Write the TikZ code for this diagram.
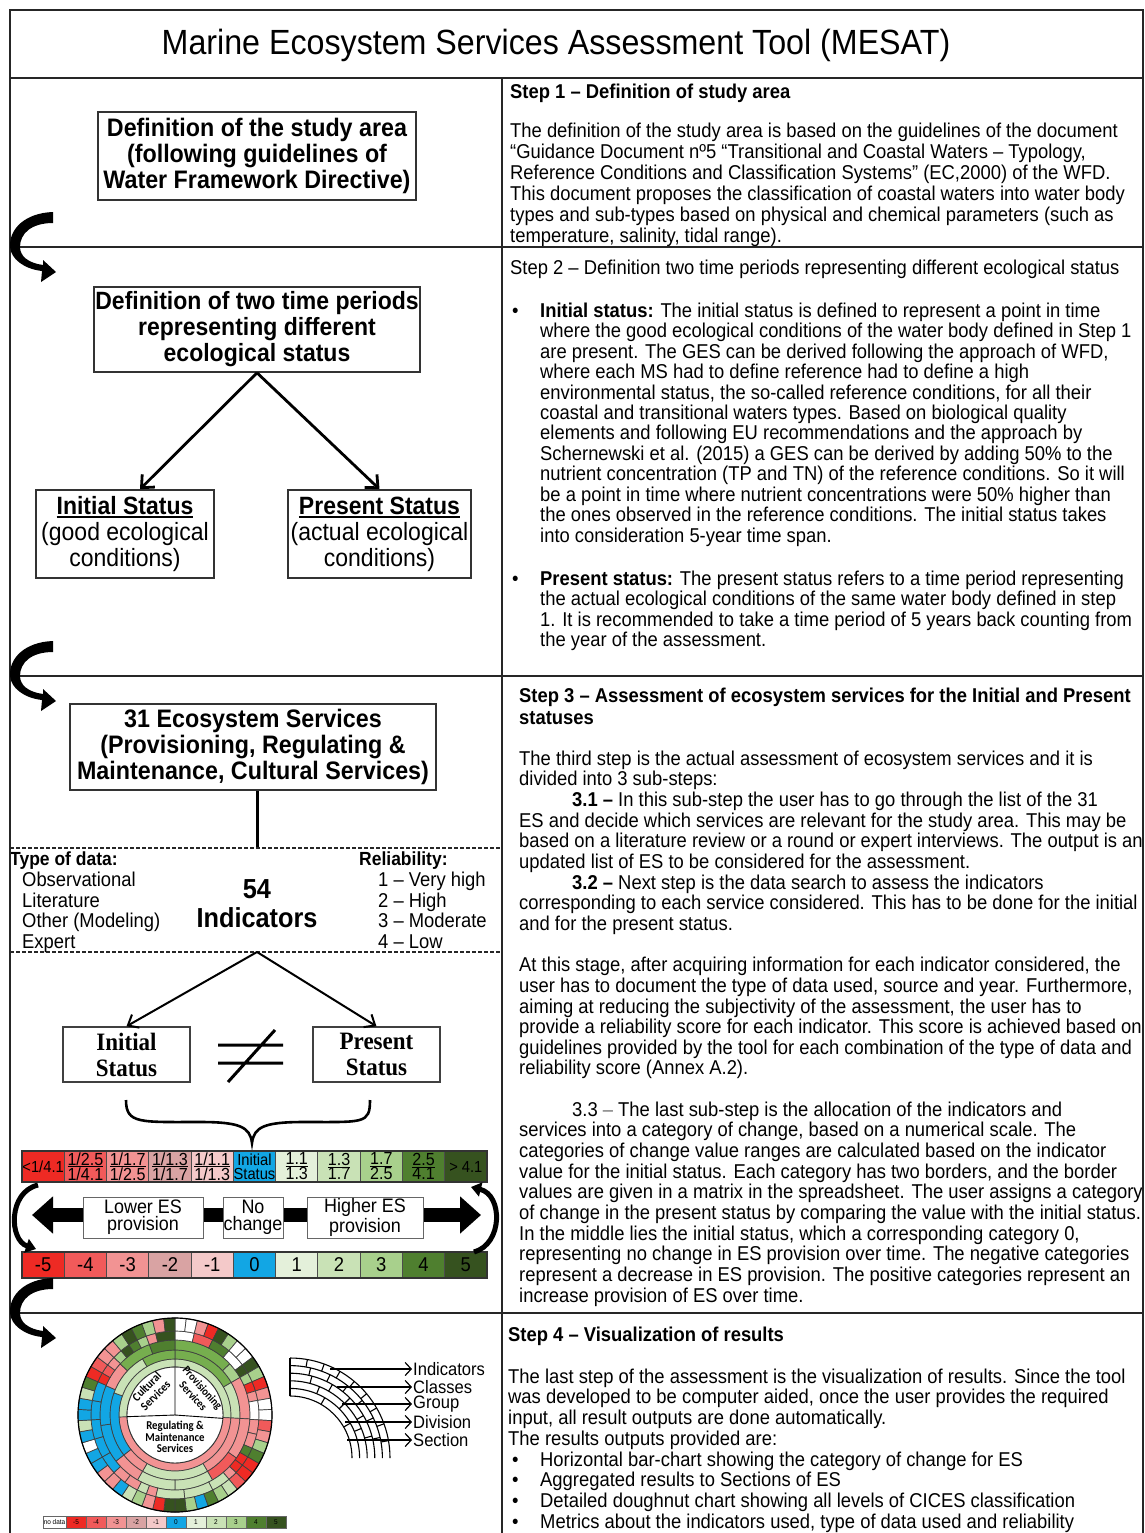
\documentclass[tikz,border=0pt]{standalone}
\usepackage{fontspec}
\setmainfont{Liberation Sans}[FakeStretch=0.92]
\newfontfamily\serifb{Liberation Serif}[FakeStretch=0.92]
\newfontfamily\calib{Carlito}[FakeStretch=0.9]
\usetikzlibrary{arrows.meta,calc}
\definecolor{m5}{HTML}{EE2A24}
\definecolor{m4}{HTML}{F15A5A}
\definecolor{m3}{HTML}{F29393}
\definecolor{m2}{HTML}{D9A3A3}
\definecolor{m1}{HTML}{F4C9C9}
\definecolor{z0}{HTML}{12A6E4}
\definecolor{p1}{HTML}{E4F0DA}
\definecolor{p2}{HTML}{C9E2B6}
\definecolor{p3}{HTML}{A8D08C}
\definecolor{p35}{HTML}{76AE4E}
\definecolor{p4}{HTML}{4F7F2F}
\definecolor{p5}{HTML}{36521F}
\definecolor{wh}{HTML}{FFFFFF}
\newcommand\ts{\rule{0pt}{16pt}}
\newsavebox\ulbox
\newcommand\myul[3]{\sbox\ulbox{#3}\rlap{\rule[#1]{\wd\ulbox}{#2}}\usebox\ulbox}
\newcommand\dring[3]{%
  \foreach \sa/\sb/\sc in {#3}{%
    \filldraw[fill=\sc,draw=black!75,line width=0.7pt]
      ($(dc)+(\sa-90:#1)$) arc[start angle=\sa-90,end angle=\sb-90,radius=#1]
      -- ($(dc)+(\sb-90:#2)$) arc[start angle=\sb-90,end angle=\sa-90,radius=#2] -- cycle;}}
\newcommand\dcells[4]{%
  \foreach \sc [count=\ii from 0] in {#4}{%
    \pgfmathsetmacro\sa{\ii*(360/#3)}\pgfmathsetmacro\sb{(\ii+1)*(360/#3)}
    \filldraw[fill=\sc,draw=black!75,line width=0.7pt]
      ($(dc)+(\sa-90:#1)$) arc[start angle=\sa-90,end angle=\sb-90,radius=#1]
      -- ($(dc)+(\sb-90:#2)$) arc[start angle=\sb-90,end angle=\sa-90,radius=#2] -- cycle;}}
\tikzset{
  turnarrow/.pic={\fill[black] (43,-35) .. controls (15,-34) and (-1,-18) .. (0,0)
     .. controls (1,12) and (14,22) .. (32,24) -- (31,35) -- (46,25) -- (33,13) -- (33,18)
     .. controls (18,16) and (10,9) .. (10,0) .. controls (10,-14) and (22,-24) .. (43,-24) -- cycle;}
}
\begin{document}
\begin{tikzpicture}[x=1pt,y=-1pt,
  frame/.style={draw=black!85,line width=2.2pt},
  lbox/.style={draw=black!80,line width=1.6pt,fill=white,align=center,inner sep=0pt,font=\fontsize{25.3}{26}\selectfont\bfseries},
  sbox/.style={draw=black!80,line width=1.6pt,fill=white,align=center,inner sep=0pt,font=\fontsize{25}{26}\selectfont},
  tbox/.style={draw=black!75,line width=1.4pt,fill=white,align=center,inner sep=0pt,font=\serifb\fontsize{25}{26}\selectfont\bfseries},
  txt/.style={anchor=north west,align=left,inner sep=0pt,font=\fontsize{20}{20.6}\selectfont},
  cell/.style={draw=black!70,line width=1pt,inner sep=0pt,minimum width=42.27pt,align=center},
  mbox/.style={draw=black!60,line width=1pt,fill=white,inner sep=0pt,align=center,minimum height=41pt,font=\fontsize{19.5}{17}\selectfont},
  thin/.style={line width=2pt,-{Straight Barb[length=9pt,width=15pt]}},
  lab/.style={anchor=west,inner sep=1pt,font=\fontsize{18}{18}\selectfont},
  dsh/.style={draw=black!85,line width=1.3pt,dash pattern=on 4pt off 2pt},
  dlab/.style={font=\calib\bfseries\fontsize{12}{12.5}\selectfont,align=center,inner sep=0pt}
]
\useasboundingbox (0,0) rectangle (1145,1533);
\fill[white] (0,0) rectangle (1145,1533);

% ---------------- title
\node[font=\fontsize{35}{38}\selectfont] (title) at (556,45) {Marine Ecosystem Services Assessment Tool (MESAT)};

% ---------------- step 1 left
\node[lbox,minimum width=318,minimum height=88] (s1box) at (257,156) {Definition of the study area\\(following guidelines of\\Water Framework Directive)};

% ---------------- step 1 right
\node[txt,font=\fontsize{20}{21}\selectfont\bfseries] (s1h) at (510,82) {\ts Step 1 – Definition of study area};
\node[txt,font=\fontsize{20}{21}\selectfont] (s1t) at (510,121) {\ts The definition of the study area is based on the guidelines of the document\\
“Guidance Document nº5 “Transitional and Coastal Waters – Typology,\\
Reference Conditions and Classification Systems” (EC,2000) of the WFD.\\
This document proposes the classification of coastal waters into water body\\
types and sub-types based on physical and chemical parameters (such as\\
temperature, salinity, tidal range).};

% ---------------- step 2 left
\node[lbox,font=\fontsize{25}{26}\selectfont\bfseries,minimum width=326,minimum height=85] (s2box) at (257,329.5) {Definition of two time periods\\representing different\\ecological status};
\node[sbox,minimum width=178,minimum height=88] (ibox) at (125,534) {{\bfseries\myul{-3.5pt}{1.8pt}{Initial Status}}\\(good ecological\\conditions)};
\node[sbox,minimum width=183,minimum height=88] (pbox) at (379.5,534) {{\bfseries\myul{-3.5pt}{1.8pt}{Present Status}}\\(actual ecological\\conditions)};
\draw[line width=2.8pt,-{Straight Barb[length=10pt,width=18pt]}] (s2box.south) -- ($(ibox.north)+(15,0)$);
\draw[line width=2.8pt,-{Straight Barb[length=10pt,width=18pt]}] (s2box.south) -- ($(pbox.north)+(0,0)$);

% ---------------- step 2 right
\node[txt,font=\fontsize{20}{20.45}\selectfont] (s2h) at (510,258) {\ts Step 2 – Definition two time periods representing different ecological status};
\node[txt] (b1) at (512,301) {\ts •};
\node[txt,font=\fontsize{20}{20.45}\selectfont] (s2a) at (540,301) {\ts\textbf{Initial status:} The initial status is defined to represent a point in time\\
where the good ecological conditions of the water body defined in Step 1\\
are present. The GES can be derived following the approach of WFD,\\
where each MS had to define reference had to define a high\\
environmental status, the so-called reference conditions, for all their\\
coastal and transitional waters types. Based on biological quality\\
elements and following EU recommendations and the approach by\\
Schernewski et al. (2015) a GES can be derived by adding 50\% to the\\
nutrient concentration (TP and TN) of the reference conditions. So it will\\
be a point in time where nutrient concentrations were 50\% higher than\\
the ones observed in the reference conditions. The initial status takes\\
into consideration 5-year time span.};
\node[txt] (b2) at (512,569) {\ts •};
\node[txt,font=\fontsize{20}{20.45}\selectfont] (s2b) at (540,569) {\ts\textbf{Present status:} The present status refers to a time period representing\\
the actual ecological conditions of the same water body defined in step\\
1. It is recommended to take a time period of 5 years back counting from\\
the year of the assessment.};

% ---------------- step 3 left
\node[lbox,minimum width=366,minimum height=86] (s3box) at (253,747) {31 Ecosystem Services\\(Provisioning, Regulating \&\\Maintenance, Cultural Services)};
\coordinate (dsh1) at (257,848);
\draw[line width=3pt] (s3box.south -| dsh1) -- (dsh1);
\draw[dsh] (10,848) -- (502,848);
\draw[dsh] (10,952) -- (502,952);
\node[txt,font=\fontsize{19}{20}\selectfont\bfseries] (tdh) at (10,849) {\ts Type of data:};
\node[txt,font=\fontsize{20}{20.8}\selectfont] (tdl) at (22,870) {\ts Observational\\Literature\\Other (Modeling)\\Expert};
\node[txt,font=\fontsize{19}{20}\selectfont\bfseries] (rlh) at (359,849) {\ts Reliability:};
\node[txt,font=\fontsize{20}{20.8}\selectfont] (rll) at (378,870) {\ts 1 – Very high\\2 – High\\3 – Moderate\\4 – Low};
\node[font=\fontsize{27.5}{29}\selectfont\bfseries,inner sep=0pt] (n54) at (257,889) {54};
\node[font=\fontsize{27.5}{29}\selectfont\bfseries,inner sep=0pt] (nind) at (257,918) {Indicators};
\coordinate (ind) at (257,952);
\node[tbox,minimum width=127,minimum height=55] (is) at (126.5,1054.5) {Initial\\Status};
\node[tbox,minimum width=127,minimum height=55] (ps) at (376.5,1054.5) {Present\\Status};
\draw[thin] (ind) -- (is.north);
\draw[thin] (ind) -- (ps.north);
% not equal sign
\draw[line width=3pt] (218,1045) -- (283,1045) (218,1063) -- (283,1063) (228,1082) -- (275,1030);
% brace
\draw[line width=2.6pt] (126,1100) .. controls (126,1124) and (140,1122) .. (200,1122)
   .. controls (240,1122) and (250,1127) .. (252,1143)
   .. controls (254,1127) and (264,1122) .. (304,1122)
   .. controls (364,1122) and (370,1124) .. (370,1100);

% color scale (top)
\foreach \lab/\col/\fs [count=\i] in {
  {<1/4.1}/m5/16,
  {\myul{-1.8pt}{0.8pt}{1/2.5}\\1/4.1}/m4/17.5,
  {\myul{-1.8pt}{0.8pt}{1/1.7}\\1/2.5}/m3/17.5,
  {\myul{-1.8pt}{0.8pt}{1/1.3}\\1/1.7}/m2/17.5,
  {\myul{-1.8pt}{0.8pt}{1/1.1}\\1/1.3}/m1/17.5,
  {Initial\\Status}/z0/16,
  {\myul{-1.8pt}{0.8pt}{1.1}\\1.3}/p1/17.5,
  {\myul{-1.8pt}{0.8pt}{1.3}\\1.7}/p2/17.5,
  {\myul{-1.8pt}{0.8pt}{1.7}\\2.5}/p3/17.5,
  {\myul{-1.8pt}{0.8pt}{2.5}\\4.1}/p4/17.5,
  {> 4.1}/p5/16}
  {\node[cell,fill=\col,minimum height=31pt,font=\fontsize{\fs}{14}\selectfont] (t\i) at ({22+42.27*(\i-0.5)},1166.5) {\lab};}
\foreach \lab/\col [count=\i] in {-5/m5,-4/m4,-3/m3,-2/m2,-1/m1,0/z0,1/p1,2/p2,3/p3,4/p4,5/p5}
  {\node[cell,fill=\col,minimum height=26pt,font=\fontsize{20}{20}\selectfont] (c\i) at ({22+42.27*(\i-0.5)},1265) {\lab};}
\draw[line width=1.6pt,draw=black!80] (22,1151) rectangle (487,1182) (22,1252) rectangle (487,1278);

% double arrow + boxes
\coordinate (dl) at (32,1215);
\coordinate (dr) at (481,1215);
\draw[line width=14pt,{Triangle[length=21pt,width=36pt]}-{Triangle[length=21pt,width=36pt]}] (dl) -- (dr);
\node[mbox,minimum width=120] (lo) at (143,1217.5) {Lower ES\\provision};
\node[mbox,minimum width=60] (nc) at (253,1217.5) {No\\change};
\node[mbox,minimum width=116] (hi) at (365,1217.5) {Higher ES\\provision};
% small curved arrows
\coordinate (la1) at (38,1185);
\coordinate (la2) at (36,1249);
\coordinate (ra1) at (474,1252);
\coordinate (ra2) at (471,1187);
\draw[line width=5pt,-{Triangle[length=10pt,width=14pt]}] (la1) .. controls (8,1192) and (9,1240) .. (la2);
\draw[line width=5pt,-{Triangle[length=10pt,width=14pt]}] (ra1) .. controls (503,1244) and (503,1195) .. (ra2);

% ---------------- step 3 right
\node[txt,font=\fontsize{20}{22}\selectfont\bfseries] (s3h) at (519,686) {\ts Step 3 – Assessment of ecosystem services for the Initial and Present\\statuses};
\node[txt,font=\fontsize{20}{20.65}\selectfont] (s3t) at (519,749) {\ts The third step is the actual assessment of ecosystem services and it is\\
divided into 3 sub-steps:\\
\hspace*{53pt}\textbf{3.1 –} In this sub-step the user has to go through the list of the 31\\
ES and decide which services are relevant for the study area. This may be\\
based on a literature review or a round or expert interviews. The output is an\\
updated list of ES to be considered for the assessment.\\
\hspace*{53pt}\textbf{3.2 –} Next step is the data search to assess the indicators\\
corresponding to each service considered. This has to be done for the initial\\
and for the present status.\\[20.65pt]
At this stage, after acquiring information for each indicator considered, the\\
user has to document the type of data used, source and year. Furthermore,\\
aiming at reducing the subjectivity of the assessment, the user has to\\
provide a reliability score for each indicator. This score is achieved based on\\
guidelines provided by the tool for each combination of the type of data and\\
reliability score (Annex A.2).\\[20.65pt]
\hspace*{53pt}3.3 {\color{black!55}–} The last sub-step is the allocation of the indicators and\\
services into a category of change, based on a numerical scale. The\\
categories of change value ranges are calculated based on the indicator\\
value for the initial status. Each category has two borders, and the border\\
values are given in a matrix in the spreadsheet. The user assigns a category\\
of change in the present status by comparing the value with the initial status.\\
In the middle lies the initial status, which a corresponding category 0,\\
representing no change in ES provision over time. The negative categories\\
represent a decrease in ES provision. The positive categories represent an\\
increase provision of ES over time.};

% ---------------- step 4 left: doughnut
\coordinate (dc) at (175,1415);
\dring{48}{56}{0/93/p2,93/268/m3,268/360/p2}
\dring{56}{65}{0/60/p35,60/93/p2,93/150/m3,150/210/p2,210/232/m3,232/290/z0,290/330/p2,330/360/p35}
\dring{65}{75}{0/47/p35,47/60/p3,60/93/m3,93/125/m3,125/150/m4,150/180/p2,180/210/p2,210/232/m3,232/262/z0,262/293/z0,293/313/m3,313/340/p35,340/360/p4}
\dring{75}{84}{0/13.33/wh,13.33/26.67/m4,26.67/40/p4,40/53.33/wh,53.33/60/p5,60/66.67/p3,66.67/73.33/m5,73.33/80/m3,80/93.33/wh,93.33/103.33/m3,103.33/113.33/m3,113.33/120/p4,120/126.67/m5,126.67/133.33/m5,133.33/140/m3,140/153.33/p2,153.33/173.33/p2,173.33/193.33/p2,193.33/200/m3,200/206.67/p2,206.67/216.67/m3,216.67/226.67/m3,226.67/240/z0,240/253.33/z0,253.33/266.67/z0,266.67/280/z0,280/293.33/z0,293.33/300/m5,300/306.67/m4,306.67/313.33/m3,313.33/320/p3,320/326.67/p5,326.67/333.33/p4,333.33/340/p3,340/346.67/m3,346.67/360/p5}
\dcells{84}{97}{54}{wh,wh,m3,m5,p5,p3,wh,wh,p5,p3,m5,m3,wh,wh,m4,m3,p3,p4,m5,m5,m4,p2,p3,p4,z0,p3,p5,p5,m5,m3,p3,p2,z0,m3,m3,z0,z0,wh,z0,p2,z0,z0,p2,p4,m5,m4,m3,m3,p3,p5,p4,p3,m3,p5}
\filldraw[fill=white,draw=black!80,line width=0.9pt] (dc) circle[radius=48];
\draw[line width=1.2pt] (dc) circle[radius=97];
\draw[line width=0.9pt] ($(dc)+(-90:48)$) -- (dc) -- ($(dc)+(178:48)$) (dc) -- ($(dc)+(4:48)$);
\node[dlab,rotate=45] (cul) at (151,1391) {Cultural\\Services};
\node[dlab,rotate=-48,font=\calib\bfseries\fontsize{11.5}{12.5}\selectfont] (pro) at (198,1392) {Provisioning\\Services};
\node[dlab,font=\calib\bfseries\fontsize{12}{11.5}\selectfont] (reg) at (175,1437) {Regulating \&\\Maintenance\\Services};
% legend
\node[draw=black!60,line width=0.6pt,fill=white,minimum width=23pt,minimum height=12pt,inner sep=0pt,font=\fontsize{7}{7}\selectfont] (lg0) at (54.5,1522) {no data};
\foreach \lab/\col [count=\i] in {-5/m5,-4/m4,-3/m3,-2/m2,-1/m1,0/z0,1/p1,2/p2,3/p3,4/p4,5/p5}
  {\node[draw=black!60,line width=0.6pt,fill=\col,minimum width=20pt,minimum height=12pt,inner sep=0pt,font=\fontsize{7}{7}\selectfont] (lg\i) at ({66+20*(\i-0.5)},1522) {\lab};}

% fan diagram
\coordinate (fc) at (290,1458);
\foreach \r in {62,69.6,77.2,84.8,92.4,100}
  {\draw[line width=1.1pt] ($(fc)+(-90:\r)$) arc[start angle=-90,end angle=0,radius=\r];}
\draw[line width=1.1pt] ($(fc)+(-90:62)$) -- ($(fc)+(-90:100)$);
\foreach \a in {-80,-70,...,-10} {\draw[line width=1.1pt] ($(fc)+(\a:92.4)$) -- ($(fc)+(\a:100)$);}
\foreach \a in {-77.14,-64.29,-51.43,-38.57,-25.71,-12.86} {\draw[line width=1.1pt] ($(fc)+(\a:84.8)$) -- ($(fc)+(\a:92.4)$);}
\foreach \a in {-75,-60,...,-15} {\draw[line width=1.1pt] ($(fc)+(\a:77.2)$) -- ($(fc)+(\a:84.8)$);}
\foreach \a in {-67.5,-45,-22.5} {\draw[line width=1.1pt] ($(fc)+(\a:69.6)$) -- ($(fc)+(\a:77.2)$);}
\foreach \a in {-60,-30} {\draw[line width=1.1pt] ($(fc)+(\a:62)$) -- ($(fc)+(\a:69.6)$);}
\node[lab] (lind) at (412,1369) {Indicators};
\node[lab] (lcla) at (412,1387) {Classes};
\node[lab] (lgro) at (412,1404) {Group};
\node[lab] (ldiv) at (412,1422) {Division};
\node[lab] (lsec) at (412,1440) {Section};
\coordinate (find) at (330,1369);
\coordinate (fcla) at (337,1387);
\coordinate (fgro) at (342,1404);
\coordinate (fdiv) at (345,1422);
\coordinate (fsec) at (347,1440);
\foreach \f/\l in {find/lind,fcla/lcla,fgro/lgro,fdiv/ldiv,fsec/lsec}
  {\draw[line width=1.2pt,-{Straight Barb[length=6pt,width=13pt]}] (\f) -- (\l.west);}

% ---------------- step 4 right
\node[txt,font=\fontsize{20}{20.7}\selectfont\bfseries] (s4h) at (508,1325) {\ts Step 4 – Visualization of results};
\node[txt,font=\fontsize{20}{20.7}\selectfont] (s4t) at (508,1367) {\ts The last step of the assessment is the visualization of results. Since the tool\\
was developed to be computer aided, once the user provides the required\\
input, all result outputs are done automatically.\\
The results outputs provided are:};
\node[txt,font=\fontsize{20}{20.7}\selectfont] (s4b) at (512,1450) {\ts •\\•\\•\\•};
\node[txt,font=\fontsize{20}{20.7}\selectfont] (s4l) at (540,1450) {\ts Horizontal bar-chart showing the category of change for ES\\
Aggregated results to Sections of ES\\
Detailed doughnut chart showing all levels of CICES classification\\
Metrics about the indicators used, type of data used and reliability};

% ---------------- frame
\draw[frame] (10,1545) -- (10,10) -- (1143,10) -- (1143,1545);
\draw[frame] (10,78) -- (1143,78);
\draw[frame] (10,247) -- (1143,247);
\draw[frame] (10,676) -- (1143,676);
\draw[frame] (10,1313) -- (1143,1313);
\draw[frame] (502,78) -- (502,1545);

% turning arrows
\coordinate (tr1) at (10,247);
\coordinate (tr2) at (10,676);
\coordinate (tr3) at (10,1313);
\pic at (tr1) {turnarrow};
\pic at (tr2) {turnarrow};
\pic at (tr3) {turnarrow};
\end{tikzpicture}
\end{document}
